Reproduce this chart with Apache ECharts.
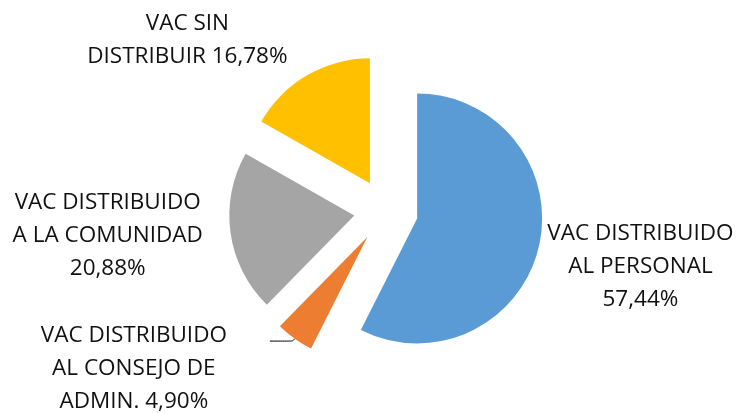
<!DOCTYPE html>
<html>
<head>
<meta charset="utf-8">
<script src="https://cdn.jsdelivr.net/npm/echarts@6/dist/echarts.min.js"></script>
<style>
  html, body { margin: 0; padding: 0; background: #fff; }
  #grafico { width: 740px; height: 414px; }
</style>
</head>
<body>
<div id="grafico"></div>
<script>
// datos del grafico
var nombres = [
  "VAC DISTRIBUIDO\nAL PERSONAL",
  "VAC DISTRIBUIDO\nAL CONSEJO DE\nADMIN.",
  "VAC DISTRIBUIDO\nA LA COMUNIDAD",
  "VAC SIN\nDISTRIBUIR"
];
var valores = [57.44, 4.90, 20.88, 16.78];
// como se une el nombre con el porcentaje en cada etiqueta
var separadores = ["\n", " ", "\n", " "];
var colores = ["#5B9BD5", "#ED7D31", "#A5A5A5", "#FFC000"];
var conLinea = [false, true, false, false];

// largo de la guia (radial, horizontal) que coloca cada etiqueta
var largoGuia = [
  [85, 14],
  [3, 23],
  [23, 95],
  [41, 94]
];
// relleno derecho y espacio superior de cada etiqueta
var rellenoDer = [0, 262, 0, 0];
var espacioSup = [0, 56, 0, 0];

var chart = echarts.init(document.getElementById("grafico"));

var datos = valores.map(function (v, i) {
  return {
    name: nombres[i],
    value: v,
    selected: true,
    itemStyle: { color: colores[i] },
    label: { padding: [0, rellenoDer[i], 0, 0] },
    labelLine: {
      show: conLinea[i],
      length: largoGuia[i][0],
      length2: largoGuia[i][1]
    }
  };
});

var option = {
  animation: false,
  series: [
    {
      type: "pie",
      center: [386, 211],
      radius: 125,
      startAngle: 90,
      clockwise: true,
      selectedMode: "multiple",
      selectedOffset: 32,
      avoidLabelOverlap: false,
      emphasis: { scale: false },
      label: {
        show: true,
        position: "outside",
        fontFamily: "Open Sans",
        fontSize: 22.5,
        lineHeight: 33,
        color: "#111",
        formatter: function (p) {
          var i = p.dataIndex;
          var texto = p.name + separadores[i] +
            p.value.toFixed(2).replace(".", ",") + "%";
          if (espacioSup[i] > 0) {
            texto = "{s| }\n" + texto;
          }
          return texto;
        },
        rich: {
          s: { fontSize: 1, lineHeight: 56 }
        }
      },
      labelLine: {
        smooth: 0.3,
        lineStyle: { color: "#000", width: 1 }
      },
      // lineas centradas dentro de cada etiqueta
      labelLayout: function () {
        return { align: "center", verticalAlign: "middle" };
      },
      data: datos
    }
  ]
};

chart.setOption(option);
window.addEventListener("resize", function () {
  chart.resize();
});
</script>
</body>
</html>
